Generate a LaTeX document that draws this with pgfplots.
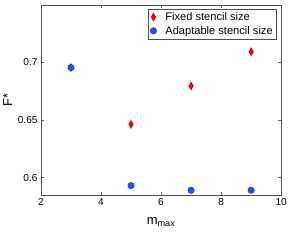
\documentclass[border=0pt]{standalone}
\usepackage{fontspec}
\setmainfont{Liberation Sans}
\usepackage{pgfplots}
\pgfplotsset{compat=1.18}
\definecolor{mred}{rgb}{1,0,0}
\definecolor{mblue}{rgb}{0.15,0.3,1}
\begin{document}
\begin{tikzpicture}
\begin{axis}[
  at={(0,0)}, anchor=south west,
  scale only axis, width=249pt, height=197pt,
  xmin=2, xmax=10, ymin=0.585, ymax=0.75,
  xtick={2,4,6,8,10}, ytick={0.6,0.65,0.7},
  yticklabels={0.6,0.65,0.7},
  tick align=inside, tick pos=both,
  major tick length=3pt,
  axis line style={black!70, line width=0.6pt},
  tick style={black!60, line width=0.4pt},
  /pgf/number format/assume math mode=true,
  ticklabel style={font=\fontsize{10.5}{12}\selectfont},
  xlabel={m\textsubscript{max}}, ylabel={F*},
  label style={font=\fontsize{13.5}{15}\selectfont},
  xlabel style={yshift=-6pt},
  ylabel style={yshift=-1pt},
  legend style={at={(1,1)}, anchor=north east, xshift=-5pt, yshift=-4pt,
    draw=black!70, line width=0.5pt,
    font=\fontsize{11.5}{13}\selectfont, inner sep=1.5pt, row sep=0.5pt,
    cells={anchor=west}},
  legend cell align=left,
]
\addplot[only marks, mark=diamond*, mark size=4.2pt, mark options={fill=mred, draw=red!70!black, line width=0.4pt, xscale=0.75}]
  coordinates {(3,0.6955) (5,0.6462) (7,0.6795) (9,0.7093)};
\addlegendentry{\hspace{7pt}Fixed stencil size}
\addplot[only marks, mark=*, mark size=3.4pt, mark options={fill=mblue, draw=mblue!70!black, line width=0.4pt}]
  coordinates {(3,0.6955) (5,0.593) (7,0.589) (9,0.589)};
\addlegendentry{\hspace{7pt}Adaptable stencil size}
\end{axis}
\path[use as bounding box] (-33pt,-38pt) rectangle (257pt,202pt);
\end{tikzpicture}
\end{document}
